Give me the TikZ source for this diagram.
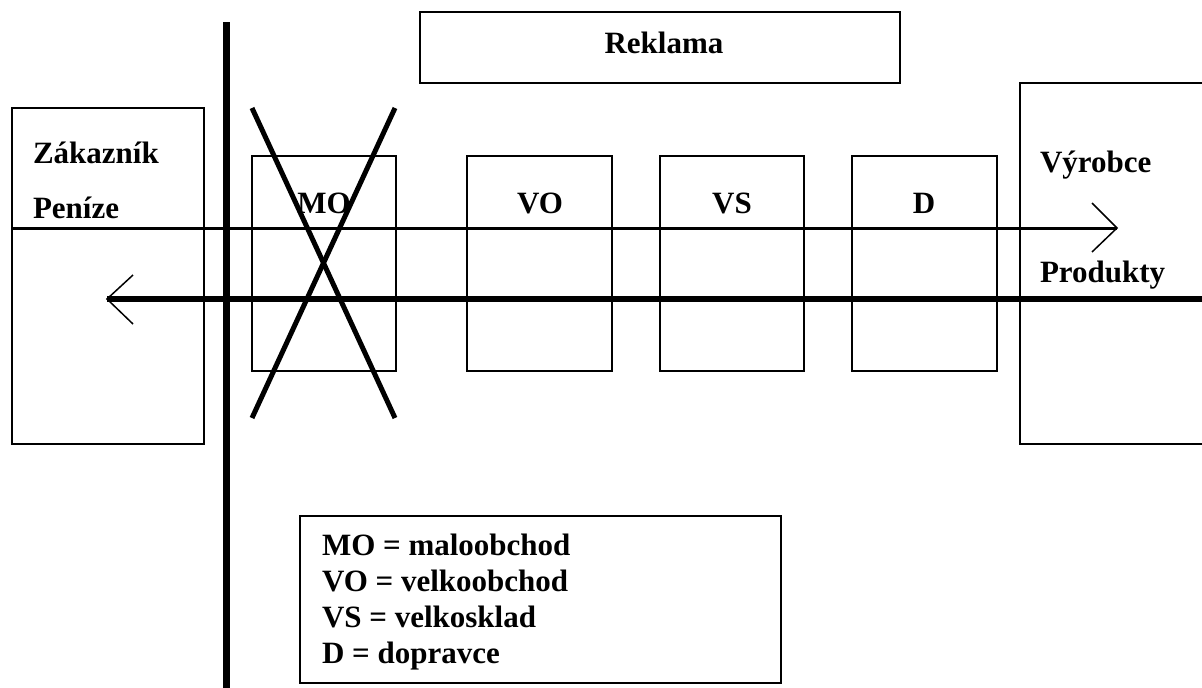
\documentclass[tikz,border=0pt]{standalone}
\usepackage{fontspec}
\setmainfont{Liberation Serif}
\begin{document}
\begin{tikzpicture}[x=1pt,y=-1pt,
  box/.style={draw, line width=2pt, inner sep=0pt, outer sep=0pt, anchor=north west},
  lbl/.style={font=\fontsize{31}{36}\selectfont\bfseries, inner sep=0pt, outer sep=0pt},
  wall/.style={line width=7pt},
  cross/.style={line width=5pt},
  money/.style={line width=3pt},
  goods/.style={line width=5.5pt},
  barb/.style={line width=1.5pt, line join=miter}]
\useasboundingbox (0,0) rectangle (1202,688);
\clip (0,0) rectangle (1202,688);

% customer, producer and advertising
\node[box, minimum width=192, minimum height=336] (zak) at (12,108) {};
\node[box, minimum width=200, minimum height=361] (vyr) at (1020,83) {};
\node[box, minimum width=480, minimum height=71] (rek) at (420,12) {};
\node[lbl, anchor=base] (rekt) at (664,53) {Reklama};

% intermediaries
\node[box, minimum width=144, minimum height=215] (mo) at (252,156) {};
\node[box, minimum width=145, minimum height=215] (vo) at (467,156) {};
\node[box, minimum width=144, minimum height=215] (vs) at (660,156) {};
\node[box, minimum width=145, minimum height=215] (d)  at (852,156) {};
\node[lbl, anchor=base] (mot) at (324,213) {MO};
\node[lbl, anchor=base] (vot) at (540,213) {VO};
\node[lbl, anchor=base] (vst) at (732,213) {VS};
\node[lbl, anchor=base] (dt)  at (924,213) {D};

% side labels
\node[lbl, anchor=base west] (zakt) at (33,163) {Zákazník};
\node[lbl, anchor=base west] (pen)  at (33,218) {Peníze};
\node[lbl, anchor=base west] (vyrt) at (1040,172) {Výrobce};
\node[lbl, anchor=base west] (prod) at (1040,282) {Produkty};

% flow of money (to the right) and products (to the left)
\coordinate (m0) at (12,228);
\coordinate (m1) at (1117,228);
\coordinate (g0) at (1202,299);
\coordinate (g1) at (107,299);
\draw[money] (m0) -- (m1);
\draw[barb] (m1) ++(-25,-25) -- (m1) -- ++(-25,24);
\draw[goods] (g0) -- (g1);
\draw[barb] (g1) ++(26,-24) -- (g1) -- ++(26,25);

% boundary line
\coordinate (w0) at (226,22);
\coordinate (w1) at (226,688);
\draw[wall] (w0) -- (w1);

% retail is crossed out
\coordinate (x1) at (252,108);
\coordinate (x2) at (395,418);
\coordinate (x3) at (395,108);
\coordinate (x4) at (252,418);
\draw[cross] (x1) -- (x2);
\draw[cross] (x3) -- (x4);

% legend
\node[box, minimum width=481, minimum height=167] (leg) at (300,516) {};
\node[lbl, anchor=base west] (l1) at (322,555) {MO = maloobchod};
\node[lbl, anchor=base west] (l2) at (322,591) {VO = velkoobchod};
\node[lbl, anchor=base west] (l3) at (322,627) {VS = velkosklad};
\node[lbl, anchor=base west] (l4) at (322,663) {D = dopravce};
\end{tikzpicture}
\end{document}
